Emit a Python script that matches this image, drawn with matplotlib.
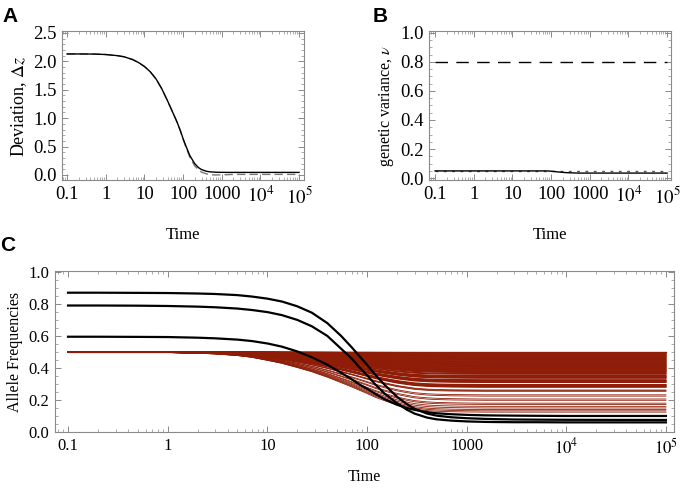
#!usr/bin/env python3

import matplotlib
matplotlib.use("Agg")
import matplotlib.pyplot as plt
from matplotlib.ticker import LogLocator, NullFormatter, MultipleLocator

plt.rcParams['font.family'] = ['Liberation Serif', 'DejaVu Serif']
plt.rcParams['mathtext.fontset'] = 'stix'

# DATA
time_pts = [0.1, 0.2, 0.5, 1, 2, 3, 5, 7, 10, 14, 20, 28, 40, 55, 70, 85, 100, 120,
            150, 200, 250, 300, 400, 500, 700, 1000, 1500, 2000, 3000, 5000, 1e4, 1e5]

# panel A: deviation
dev_solid = [2.13, 2.13, 2.128, 2.12, 2.10, 2.08, 2.03, 1.98, 1.91, 1.82, 1.69, 1.52,
             1.30, 1.09, 0.93, 0.78, 0.64, 0.50, 0.34, 0.20, 0.13, 0.095, 0.065, 0.055,
             0.048, 0.046, 0.045, 0.045, 0.045, 0.045, 0.045, 0.045]
dev_dashed = [2.13, 2.13, 2.128, 2.12, 2.10, 2.08, 2.03, 1.98, 1.91, 1.82, 1.69, 1.52,
              1.30, 1.09, 0.93, 0.78, 0.63, 0.48, 0.31, 0.16, 0.09, 0.05, 0.02, 0.005,
              0.0, 0.003, 0.006, 0.01, 0.01, 0.01, 0.01, 0.01]

# panel B: genetic variance
var_solid = [0.05, 0.05, 0.05, 0.05, 0.05, 0.05, 0.05, 0.05, 0.05, 0.05, 0.05, 0.05,
             0.05, 0.05, 0.05, 0.0495, 0.048, 0.046, 0.043, 0.040, 0.038, 0.037, 0.036,
             0.035, 0.035, 0.035, 0.035, 0.035, 0.035, 0.035, 0.035, 0.035]
var_dotted = [0.05] * len(time_pts)
var_dashed = [0.8] * len(time_pts)

# panel C: allele frequencies, three large-effect loci (black)
freq_black = [
    [0.87, 0.87, 0.869, 0.868, 0.865, 0.862, 0.855, 0.846, 0.833, 0.815, 0.785, 0.745,
     0.68, 0.60, 0.53, 0.47, 0.42, 0.36, 0.295, 0.22, 0.175, 0.145, 0.115, 0.102,
     0.092, 0.086, 0.082, 0.080, 0.078, 0.077, 0.076, 0.075],
    [0.79, 0.79, 0.789, 0.787, 0.783, 0.779, 0.771, 0.762, 0.749, 0.73, 0.70, 0.66,
     0.60, 0.52, 0.46, 0.40, 0.355, 0.30, 0.24, 0.18, 0.14, 0.115, 0.09, 0.079,
     0.071, 0.066, 0.063, 0.062, 0.061, 0.061, 0.06, 0.06],
    [0.595, 0.595, 0.594, 0.593, 0.589, 0.585, 0.577, 0.568, 0.553, 0.533, 0.503, 0.467,
     0.42, 0.37, 0.33, 0.295, 0.27, 0.24, 0.205, 0.17, 0.15, 0.138, 0.124, 0.117,
     0.111, 0.107, 0.104, 0.103, 0.102, 0.101, 0.10, 0.10],
]
# small-effect loci (red): all start at 0.5, end at these values
red_start = 0.5
red_final = [0.500, 0.496, 0.492, 0.488, 0.484, 0.480, 0.476, 0.472, 0.468, 0.464,
             0.460, 0.456, 0.452, 0.448, 0.444, 0.440, 0.436, 0.432, 0.428, 0.424,
             0.420, 0.416, 0.412, 0.408, 0.404, 0.400, 0.396, 0.392, 0.388, 0.384,
             0.380, 0.376, 0.372, 0.365, 0.361, 0.352, 0.348, 0.344, 0.340, 0.336,
             0.326, 0.322, 0.318, 0.314, 0.310, 0.296, 0.292, 0.288, 0.284, 0.280,
             0.262, 0.258, 0.254, 0.232, 0.224, 0.206, 0.198, 0.180, 0.172, 0.160,
             0.150, 0.140, 0.132, 0.124]
# fraction of the way from start to final value
red_progress = [0, 0.001, 0.005, 0.01, 0.022, 0.033, 0.06, 0.09, 0.14, 0.19, 0.26, 0.33,
                0.42, 0.51, 0.58, 0.64, 0.69, 0.75, 0.81, 0.88, 0.92, 0.95, 0.975, 0.985,
                0.993, 0.997, 1, 1, 1, 1, 1, 1]

x_ticks = [0.1, 1, 10, 100, 1000, 1e4, 1e5]
x_labels = ['0.1', '1', '10', '100', '1000', '$10^4$', '$10^5$']

RED = '#8e1c07'
FRAME = '#8a8a8a'


def style_axes(ax, tick_size, ymajor, yminor):
    """Mathematica-like frame: grey frame, inward ticks on all sides."""
    ax.set_xscale('log')
    ax.set_xticks(x_ticks)
    ax.set_xticklabels(x_labels)
    ax.xaxis.set_minor_locator(LogLocator(base=10, subs=range(2, 10), numticks=20))
    ax.xaxis.set_minor_formatter(NullFormatter())
    ax.yaxis.set_major_locator(MultipleLocator(ymajor))
    ax.yaxis.set_minor_locator(MultipleLocator(yminor))
    for s in ax.spines.values():
        s.set_color(FRAME)
        s.set_linewidth(0.8)
    ax.tick_params(which='both', direction='in', top=True, right=True,
                   color=FRAME, labelsize=tick_size, pad=4)
    ax.tick_params(which='major', length=4, width=0.7)
    ax.tick_params(which='minor', length=2, width=0.5)


fig = plt.figure(figsize=(6.8, 4.88), dpi=100)

# Panel A
axA = fig.add_axes([0.0912, 0.631, 0.356, 0.305])
axA.plot(time_pts, dev_dashed, color='#777777', lw=1.0, dashes=(6, 3))
axA.plot(time_pts, dev_solid, color='black', lw=1.0)
style_axes(axA, 13.5, 0.5, 0.1)
axA.set_xlim(0.074, 1.35e5)
axA.set_ylim(-0.09, 2.53)
axA.set_yticks([0, 0.5, 1.0, 1.5, 2.0, 2.5])
axA.set_yticklabels(['0.0', '0.5', '1.0', '1.5', '2.0', '2.5'])
axA.set_ylabel(r'Deviation, $\Delta z$', fontsize=13, labelpad=3)
axA.set_xlabel('Time', fontsize=12, labelpad=15)

# Panel B
axB = fig.add_axes([0.631, 0.631, 0.356, 0.305])
axB.plot(time_pts, var_dashed, color='black', lw=1.0, dashes=(9, 6))
axB.plot(time_pts, var_dotted, color='#555555', lw=1.0, dashes=(2, 4))
axB.plot(time_pts, var_solid, color='black', lw=1.0)
style_axes(axB, 13.5, 0.2, 0.05)
axB.set_xlim(0.07, 1.27e5)
axB.set_ylim(-0.013, 1.01)
axB.set_yticks([0, 0.2, 0.4, 0.6, 0.8, 1.0])
axB.set_yticklabels(['0.0', '0.2', '0.4', '0.6', '0.8', '1.0'])
axB.set_ylabel(r'genetic variance, $\nu$', fontsize=11.5, labelpad=3)
axB.set_xlabel('Time', fontsize=12, labelpad=15)

# Panel C
axC = fig.add_axes([0.0809, 0.1148, 0.910, 0.33])
for fin in red_final:
    ys = [red_start - (red_start - fin) * p for p in red_progress]
    axC.plot(time_pts, ys, color=RED, lw=0.9 if fin > 0.27 else 0.6)
for ys in freq_black:
    axC.plot(time_pts, ys, color='black', lw=1.6)
style_axes(axC, 12, 0.2, 0.05)
axC.set_xlim(0.074, 1.2e5)
axC.set_ylim(0, 1.006)
axC.set_yticks([0, 0.2, 0.4, 0.6, 0.8, 1.0])
axC.set_yticklabels(['0.0', '0.2', '0.4', '0.6', '0.8', '1.0'])
axC.set_ylabel('Allele Frequencies', fontsize=11.5, labelpad=4)
axC.set_xlabel('Time', fontsize=11.5, labelpad=8)

# panel letters
for lab, x, y in [('A', 0.004, 0.955), ('B', 0.548, 0.955), ('C', 0.0, 0.486)]:
    fig.text(x, y, lab, fontfamily='Liberation Sans', fontweight='bold', fontsize=15)

fig.savefig('out.png', dpi=100)
plt.close(fig)
